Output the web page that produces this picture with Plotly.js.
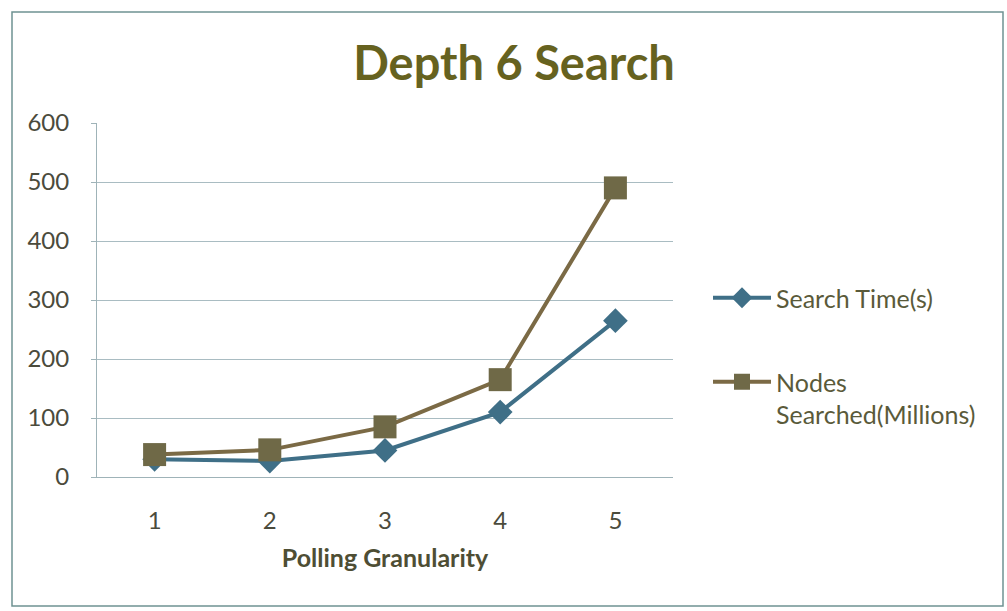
<!DOCTYPE html>
<html>
<head>
<meta charset="utf-8">
<script src="https://cdn.plot.ly/plotly-3.0.1.min.js"></script>
<style>html,body{margin:0;padding:0;background:#fff;}#chart{width:1007px;height:611px;}</style>
</head>
<body>
<div id="chart"></div>
<script>
const categories = ["1", "2", "3", "4", "5"];
const searchTime = [30, 27, 45, 110, 265];
const nodesSearched = [38, 46, 85, 165, 490];
const seriesNames = ["Search Time(s)", "Nodes<br>Searched(Millions)"];
const yTicks = [0, 100, 200, 300, 400, 500, 600];

const W = 1007, H = 611;
const L = 97, R = 673, T = 123, B = 477;
const pw = R - L, ph = B - T;
const px = v => (v - L) / pw;
const py = v => (B - v) / ph;

const traces = [
  {
    x: categories, y: searchTime, name: seriesNames[0], type: 'scatter', mode: 'lines+markers',
    line: {color: '#3f6f87', width: 4},
    marker: {symbol: 'diamond', size: 19, color: '#3f6f87'},
    legend: 'legend'
  },
  {
    x: categories, y: nodesSearched, name: seriesNames[1], type: 'scatter', mode: 'lines+markers',
    line: {color: '#7b6a45', width: 4},
    marker: {symbol: 'square', size: 23, color: '#6f6947'},
    legend: 'legend2'
  }
];

const FAM = 'Lato, "Open Sans", sans-serif';
const tickFont = {family: FAM, size: 24, color: '#4b4b3c'};
const legFont = {family: FAM, size: 25, color: '#5a5a3a'};

const layout = {
  width: W, height: H,
  margin: {l: L, r: W - R, t: T, b: H - B, pad: 0},
  paper_bgcolor: '#ffffff', plot_bgcolor: '#ffffff',
  title: {
    text: '<b>Depth 6 Search</b>',
    font: {family: FAM, size: 47, color: '#66621f'},
    x: (514) / W, xanchor: 'center', y: 1 - 64 / H, yanchor: 'middle'
  },
  xaxis: {
    type: 'category', range: [-0.5, 4.5],
    showgrid: false, zeroline: false,
    showline: true, linecolor: '#9fb3b8', linewidth: 1,
    ticks: '', tickfont: tickFont, ticklabelstandoff: 22,
    title: {text: '<b>Polling Granularity</b>', font: {family: FAM, size: 25, color: '#4e4e34'}, standoff: 16}
  },
  yaxis: {
    range: [0, 600], tickvals: yTicks, ticktext: yTicks.map(String),
    showgrid: true, gridcolor: '#a9bcc2', gridwidth: 1,
    zeroline: false, showline: true, linecolor: '#9fb3b8', linewidth: 1,
    ticks: 'outside', ticklen: 5, tickcolor: '#9fb3b8',
    tickfont: tickFont, ticklabelstandoff: 17
  },
  showlegend: true,
  legend: {
    x: px(708), y: py(298), xanchor: 'left', yanchor: 'middle',
    font: legFont, bgcolor: 'rgba(0,0,0,0)', itemwidth: 58
  },
  legend2: {
    x: px(708), y: py(398), xanchor: 'left', yanchor: 'middle', valign: 'top',
    font: legFont, bgcolor: 'rgba(0,0,0,0)', itemwidth: 58
  },
  shapes: [
    {type: 'rect', xref: 'paper', yref: 'paper',
     x0: px(12), x1: px(1003), y0: py(606), y1: py(12),
     line: {color: '#6f9292', width: 1.5}, fillcolor: 'rgba(0,0,0,0)', layer: 'below'}
  ]
};

Plotly.newPlot('chart', traces, layout, {displayModeBar: false, staticPlot: true});
</script>
</body>
</html>
